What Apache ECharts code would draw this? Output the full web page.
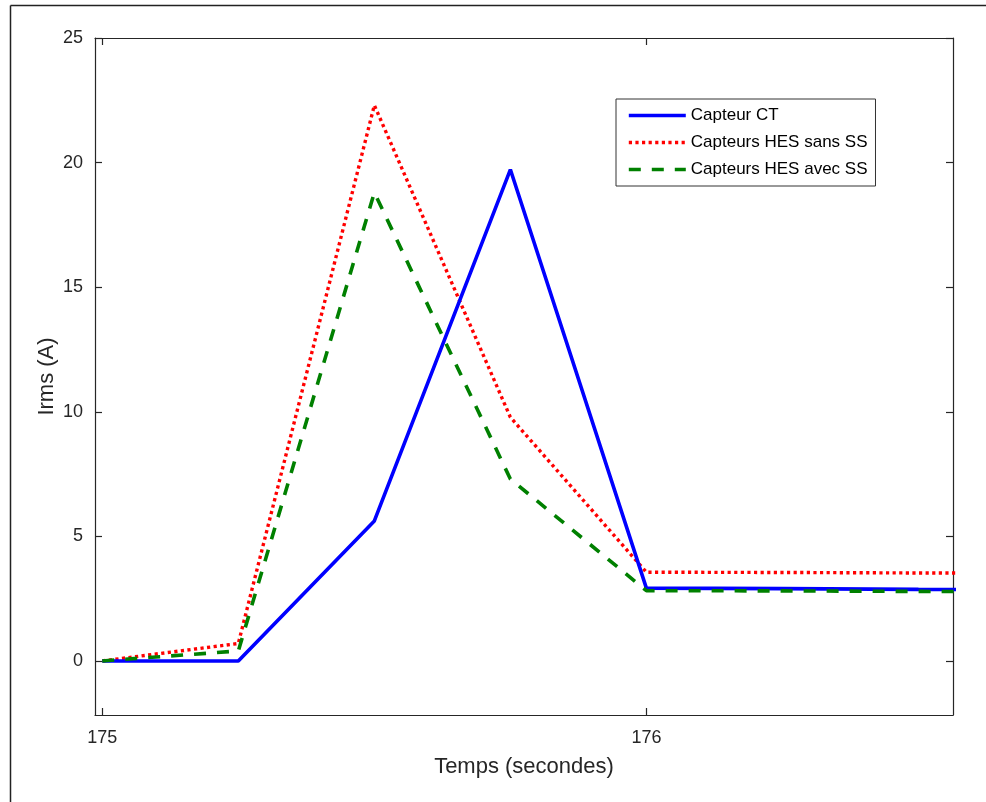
<!DOCTYPE html>
<html>
<head>
<meta charset="utf-8">
<script src="https://cdn.jsdelivr.net/npm/echarts@6/dist/echarts.min.js"></script>
<style>
html,body{margin:0;padding:0;background:#fff;}
#chart{width:986px;height:802px;}
</style>
</head>
<body>
<div id="chart"></div>
<script>
// Data
const times = [175, 175.25, 175.5, 175.75, 176, 176.25, 176.5, 176.75];
const capteurCT = [0, 0, 5.62, 19.72, 2.92, 2.9, 2.87, 2.85];
const hesSansSS = [0, 0.7, 22.3, 9.78, 3.56, 3.55, 3.53, 3.52];
const hesAvecSS = [0, 0.4, 18.8, 7.3, 2.82, 2.81, 2.79, 2.78];
const xTicks = [175, 176];
const yTicks = [0, 5, 10, 15, 20, 25];
const seriesNames = ['Capteur CT', 'Capteurs HES sans SS', 'Capteurs HES avec SS'];

const xMin = 174.9866, xMax = 176.5635;
const yMin = -2.17, yMax = 25;

const pair = (arr) => times.map((t, i) => [t, arr[i]]);
const font = 'Liberation Sans, Arial, Helvetica, sans-serif';
const axisLineStyle = { color: '#262626', width: 1.2 };

const chart = echarts.init(document.getElementById('chart'));
chart.setOption({
  animation: false,
  backgroundColor: '#fff',
  textStyle: { fontFamily: font },
  graphic: [
    { type: 'line', shape: { x1: 10.5, y1: 5.5, x2: 10.5, y2: 802 }, style: { stroke: '#222', lineWidth: 1.5 } },
    { type: 'line', shape: { x1: 10.5, y1: 5.5, x2: 986, y2: 5.5 }, style: { stroke: '#222', lineWidth: 1.5 } }
  ],
  grid: { left: 95, top: 38, right: 33, bottom: 87, containLabel: false },
  legend: {
    data: seriesNames,
    orient: 'vertical',
    left: 616, top: 99,
    padding: [8, 8, 8, 11],
    itemWidth: 57, itemHeight: 14, itemGap: 10, itemTextGap: 7,
    backgroundColor: '#fff',
    borderColor: '#333', borderWidth: 1,
    itemStyle: { opacity: 0 },
    lineStyle: { width: 'inherit', type: 'inherit' },
    textStyle: { fontSize: 17, color: '#000', fontFamily: font }
  },
  xAxis: [{
    type: 'value', min: xMin, max: xMax,
    name: 'Temps (secondes)', nameLocation: 'middle', nameGap: 41, nameMoveOverlap: false,
    nameTextStyle: { fontSize: 22, color: '#262626', fontFamily: font },
    axisLine: { show: true, onZero: false, lineStyle: axisLineStyle },
    axisTick: { show: true, inside: true, length: 7, customValues: xTicks, lineStyle: axisLineStyle },
    axisLabel: { show: true, customValues: xTicks, margin: 14, fontSize: 18, color: '#262626', fontFamily: font },
    splitLine: { show: false }
  }, {
    type: 'value', position: 'top', min: xMin, max: xMax,
    axisLine: { show: true, onZero: false, lineStyle: axisLineStyle },
    axisTick: { show: true, inside: true, length: 7, customValues: xTicks, lineStyle: axisLineStyle },
    axisLabel: { show: false },
    splitLine: { show: false }
  }],
  yAxis: [{
    type: 'value', min: yMin, max: yMax,
    name: 'Irms (A)', nameLocation: 'middle', nameGap: 37, nameRotate: 90, nameMoveOverlap: false,
    nameTextStyle: { fontSize: 22, color: '#262626', fontFamily: font },
    axisLine: { show: true, onZero: false, lineStyle: axisLineStyle },
    axisTick: { show: true, inside: true, length: 7, customValues: yTicks, lineStyle: axisLineStyle },
    axisLabel: { show: true, customValues: yTicks, margin: 12, fontSize: 18, color: '#262626', fontFamily: font },
    splitLine: { show: false }
  }, {
    type: 'value', position: 'right', min: yMin, max: yMax,
    axisLine: { show: true, onZero: false, lineStyle: axisLineStyle },
    axisTick: { show: true, inside: true, length: 7, customValues: yTicks, lineStyle: axisLineStyle },
    axisLabel: { show: false },
    splitLine: { show: false }
  }],
  series: [{
    name: seriesNames[0], type: 'line', data: pair(capteurCT),
    symbol: 'none', clip: true, z: 3,
    lineStyle: { color: '#0000ff', width: 3.6, type: 'solid' },
    itemStyle: { color: '#0000ff' }
  }, {
    name: seriesNames[1], type: 'line', data: pair(hesSansSS),
    symbol: 'none', clip: true, z: 2,
    lineStyle: { color: '#ff0000', width: 3.4, type: [3.2, 3.4] },
    itemStyle: { color: '#ff0000' }
  }, {
    name: seriesNames[2], type: 'line', data: pair(hesAvecSS),
    symbol: 'none', clip: true, z: 4,
    lineStyle: { color: '#008000', width: 3.6, type: [12, 11] },
    itemStyle: { color: '#008000' }
  }]
});
</script>
</body>
</html>
